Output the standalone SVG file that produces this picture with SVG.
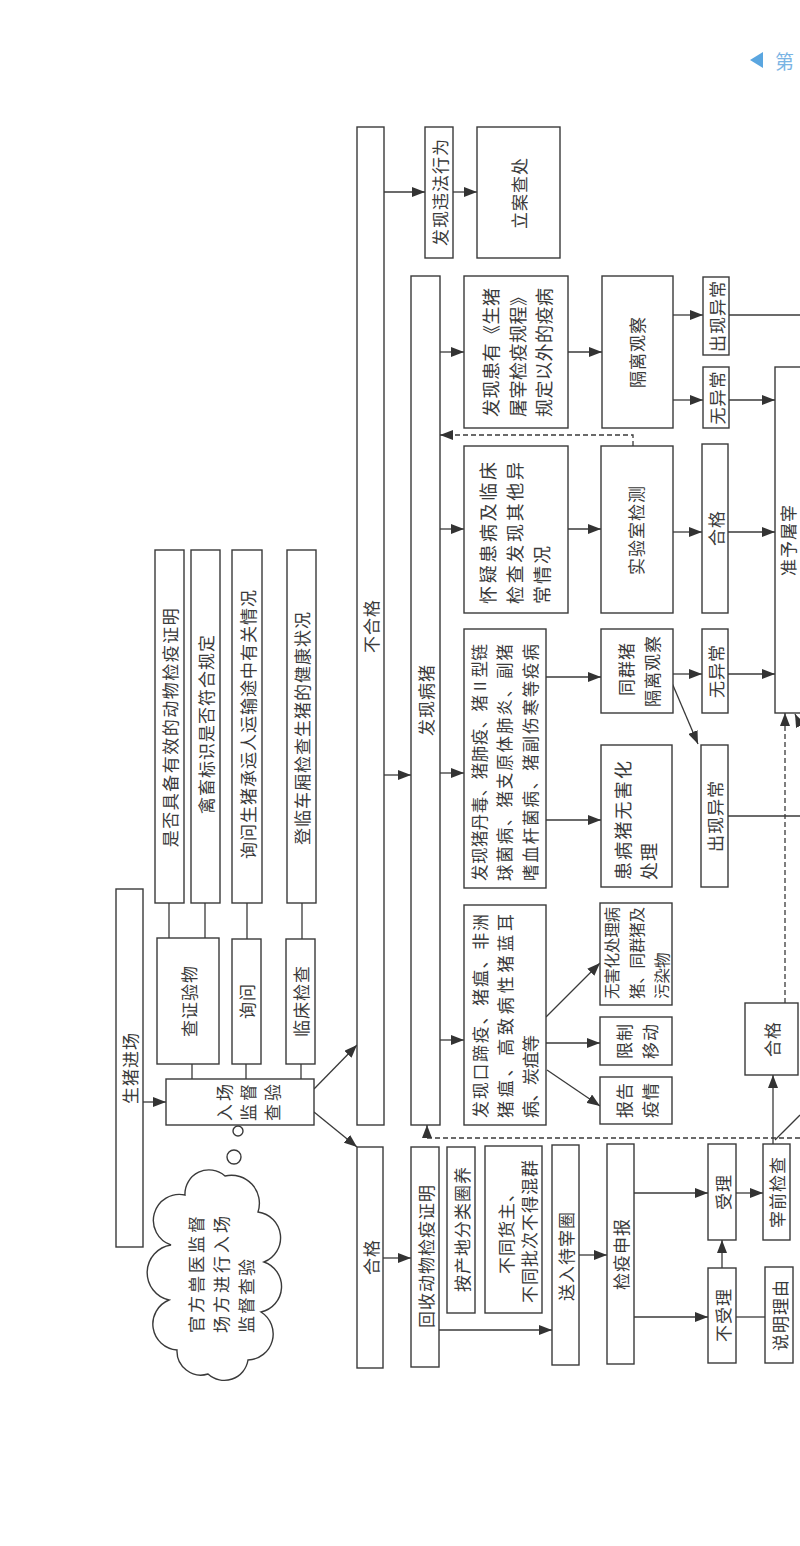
<svg xmlns="http://www.w3.org/2000/svg" width="800" height="1546" viewBox="0 0 800 1546">
<style>
.b{fill:#fff;stroke:#3a3a3a;stroke-width:1.4}
.t{font-family:"Noto Sans CJK SC","Noto Sans CJK JP",sans-serif;font-size:17px;fill:#3a3a3a;dominant-baseline:central;letter-spacing:1px}
.c{text-anchor:middle}
.l{stroke:#3a3a3a;stroke-width:1.3;fill:none}
.a{marker-end:url(#ah)}
.d{stroke-dasharray:5,3}
</style>
<defs>
<marker id="ah" viewBox="0 0 13 10" refX="13" refY="5" markerWidth="13" markerHeight="10" markerUnits="userSpaceOnUse" orient="auto"><path d="M0,0 L13,5 L0,10 z" fill="#333"/></marker>
</defs>
<rect width="800" height="1546" fill="#fff"/>

<g id="header">
<path d="M750,60 L763,52 L763,68 Z" fill="#5aa6e0"/>
<text x="775" y="60" style="font-family:'Noto Sans CJK SC',sans-serif;font-size:19px;fill:#7ab4e4;dominant-baseline:central">第</text>
</g>

<g id="connectors">
<line class="l a" x1="143" y1="1102" x2="166" y2="1102"/>
<line class="l a" x1="314" y1="1089" x2="357" y2="1045"/>
<line class="l a" x1="314" y1="1112" x2="357" y2="1147"/>
<line class="l" x1="192" y1="1079" x2="192" y2="1064"/>
<line class="l" x1="246" y1="1079" x2="246" y2="1064"/>
<line class="l" x1="301" y1="1079" x2="301" y2="1064"/>
<line class="l" x1="169" y1="938" x2="169" y2="903"/>
<line class="l" x1="205" y1="938" x2="205" y2="903"/>
<line class="l" x1="247" y1="939" x2="247" y2="903"/>
<line class="l" x1="302" y1="939" x2="302" y2="903"/>
<line class="l a" x1="384" y1="192" x2="425" y2="192"/>
<line class="l a" x1="453" y1="192" x2="477" y2="192"/>
<line class="l a" x1="384" y1="775" x2="411" y2="775"/>
<line class="l a" x1="440" y1="352" x2="464" y2="352"/>
<line class="l a" x1="440" y1="529" x2="464" y2="529"/>
<line class="l a" x1="440" y1="773" x2="464" y2="773"/>
<line class="l a" x1="440" y1="1040" x2="464" y2="1040"/>
<line class="l a" x1="568" y1="352" x2="602" y2="352"/>
<line class="l a" x1="673" y1="315" x2="703" y2="315"/>
<line class="l a" x1="673" y1="400" x2="703" y2="400"/>
<line class="l" x1="729" y1="315" x2="800" y2="315"/>
<line class="l a" x1="729" y1="400" x2="775" y2="400"/>
<line class="l a" x1="568" y1="529" x2="601" y2="529"/>
<line class="l a" x1="673" y1="532" x2="702" y2="532"/>
<line class="l a" x1="728" y1="532" x2="775" y2="532"/>
<polyline class="l d a" points="633,446 633,435 440,435"/>
<line class="l a" x1="546" y1="677" x2="601" y2="677"/>
<line class="l a" x1="546" y1="820" x2="601" y2="820"/>
<line class="l a" x1="673" y1="674" x2="702" y2="674"/>
<line class="l a" x1="728" y1="674" x2="775" y2="674"/>
<line class="l a" x1="672" y1="683" x2="698" y2="744"/>
<line class="l" x1="728" y1="816" x2="800" y2="816"/>
<line class="l a" x1="547" y1="1070" x2="600" y2="1106"/>
<line class="l a" x1="546" y1="1043" x2="600" y2="1043"/>
<line class="l a" x1="546" y1="1017" x2="600" y2="963"/>
<line class="l a" x1="383" y1="1258" x2="411" y2="1258"/>
<line class="l a" x1="439" y1="1330" x2="552" y2="1330"/>
<line class="l a" x1="579" y1="1255" x2="607" y2="1255"/>
<line class="l a" x1="634" y1="1193" x2="708" y2="1193"/>
<line class="l a" x1="634" y1="1317" x2="708" y2="1317"/>
<line class="l a" x1="722" y1="1268" x2="722" y2="1240"/>
<line class="l" x1="736" y1="1317" x2="765" y2="1317"/>
<line class="l a" x1="736" y1="1193" x2="763" y2="1193"/>
<line class="l a" x1="773" y1="1144" x2="773" y2="1075"/>
<line class="l" x1="775" y1="1140" x2="800" y2="1115"/>
<polyline class="l d a" points="800,1138 427,1138 427,1125"/>
<line class="l d a" x1="785" y1="1003" x2="785" y2="713"/>
<line class="l a" x1="806" y1="737" x2="795" y2="714"/>
</g>

<g id="n-shengzhujinchang"><rect class="b" x="116" y="889" width="27" height="358"/><text class="t c" transform="translate(129.5,1068) rotate(-90)">生猪进场</text></g>
<g id="n-ruchang"><rect class="b" x="166" y="1079" width="148" height="46"/>
<text class="t c" style="letter-spacing:3px" transform="translate(223,1101) rotate(-90)">入场</text>
<text class="t c" style="letter-spacing:3px" transform="translate(247,1101) rotate(-90)">监督</text>
<text class="t c" style="letter-spacing:3px" transform="translate(271,1101) rotate(-90)">查验</text></g>
<g id="n-chazheng"><rect class="b" x="157" y="938" width="62" height="126"/><text class="t c" transform="translate(188,1001) rotate(-90)">查证验物</text></g>
<g id="n-xunwen"><rect class="b" x="232" y="939" width="29" height="125"/><text class="t c" transform="translate(246.5,1001) rotate(-90)">询问</text></g>
<g id="n-linchuang"><rect class="b" x="286" y="939" width="29" height="125"/><text class="t c" transform="translate(300.5,1001) rotate(-90)">临床检查</text></g>
<g id="n-shifou"><rect class="b" x="155" y="550" width="29" height="353"/><text class="t c" style="letter-spacing:1.5px" transform="translate(169.5,727) rotate(-90)">是否具备有效的动物检疫证明</text></g>
<g id="n-qinchu"><rect class="b" x="191" y="550" width="29" height="353"/><text class="t c" transform="translate(205.5,724) rotate(-90)">禽畜标识是否符合规定</text></g>
<g id="n-xunwensz"><rect class="b" x="232" y="550" width="30" height="353"/><text class="t c" transform="translate(247,724) rotate(-90)">询问生猪承运人运输途中有关情况</text></g>
<g id="n-denglin"><rect class="b" x="287" y="550" width="29" height="353"/><text class="t c" transform="translate(301.5,728) rotate(-90)">登临车厢检查生猪的健康状况</text></g>

<g id="n-buhege"><rect class="b" x="357" y="127" width="27" height="998"/><text class="t c" transform="translate(370.5,626) rotate(-90)">不合格</text></g>
<g id="n-hege"><rect class="b" x="357" y="1147" width="26" height="221"/><text class="t c" transform="translate(370,1257) rotate(-90)">合格</text></g>
<g id="n-weifa"><rect class="b" x="425" y="127" width="28" height="131"/><text class="t c" transform="translate(439,192) rotate(-90)">发现违法行为</text></g>
<g id="n-lian"><rect class="b" x="477" y="127" width="83" height="131"/><text class="t c" transform="translate(518.5,193) rotate(-90)">立案查处</text></g>
<g id="n-bingzhu"><rect class="b" x="411" y="276" width="29" height="849"/><text class="t c" transform="translate(425.5,700) rotate(-90)">发现病猪</text></g>
<g id="n-huishou"><rect class="b" x="411" y="1147" width="28" height="220"/><text class="t c" transform="translate(425,1256) rotate(-90)">回收动物检疫证明</text></g>
<g id="n-anchandi"><rect class="b" x="447" y="1147" width="28" height="166"/><text class="t c" transform="translate(461,1229) rotate(-90)">按产地分类圈养</text></g>
<g id="n-butong"><rect class="b" x="485" y="1146" width="57" height="167"/>
<text class="t c" transform="translate(505,1229) rotate(-90)">不同货主、</text>
<text class="t c" transform="translate(528,1231) rotate(-90)">不同批次不得混群</text></g>
<g id="n-songru"><rect class="b" x="552" y="1145" width="27" height="220"/><text class="t c" transform="translate(565.5,1256) rotate(-90)">送入待宰圈</text></g>
<g id="n-shenbao"><rect class="b" x="607" y="1144" width="27" height="220"/><text class="t c" transform="translate(620.5,1254) rotate(-90)">检疫申报</text></g>
<g id="n-shouli"><rect class="b" x="708" y="1144" width="28" height="96"/><text class="t c" transform="translate(722,1192) rotate(-90)">受理</text></g>
<g id="n-bushouli"><rect class="b" x="708" y="1268" width="28" height="95"/><text class="t c" transform="translate(722,1315) rotate(-90)">不受理</text></g>
<g id="n-shuoming"><rect class="b" x="765" y="1267" width="28" height="96"/><text class="t c" transform="translate(779,1315) rotate(-90)">说明理由</text></g>
<g id="n-zaiqian"><rect class="b" x="763" y="1144" width="27" height="96"/><text class="t c" transform="translate(776.5,1192) rotate(-90)">宰前检查</text></g>
<g id="n-hege2"><rect class="b" x="745" y="1003" width="53" height="72"/><text class="t c" transform="translate(771,1039) rotate(-90)">合格</text></g>
<g id="n-zhunyu"><rect class="b" x="775" y="367" width="40" height="346"/><text class="t c" transform="translate(787,540) rotate(-90)">准予屠宰</text></g>

<g id="n-boxA"><rect class="b" x="464" y="276" width="104" height="152"/>
<text class="t" style="font-size:18px" transform="translate(490,417) rotate(-90)"><tspan x="0" y="0" textLength="130" lengthAdjust="spacing">发现患有《生猪</tspan><tspan x="0" y="26.5" textLength="130" lengthAdjust="spacing">屠宰检疫规程》</tspan><tspan x="0" y="52.5" textLength="130" lengthAdjust="spacing">规定以外的疫病</tspan></text></g>
<g id="n-geli"><rect class="b" x="602" y="276" width="71" height="152"/><text class="t c" transform="translate(636,352) rotate(-90)">隔离观察</text></g>
<g id="n-yichang1"><rect class="b" x="703" y="277" width="26" height="78"/><text class="t c" transform="translate(716,316) rotate(-90)">出现异常</text></g>
<g id="n-wuyichang1"><rect class="b" x="703" y="367" width="26" height="61"/><text class="t c" transform="translate(716,397.5) rotate(-90)">无异常</text></g>

<g id="n-boxB"><rect class="b" x="464" y="446" width="104" height="167"/>
<text class="t" style="font-size:18px" transform="translate(487,604) rotate(-90)"><tspan x="0" y="0" textLength="143" lengthAdjust="spacing">怀疑患病及临床</tspan><tspan x="0" y="27" textLength="143" lengthAdjust="spacing">检查发现其他异</tspan><tspan x="0" y="54" textLength="59" lengthAdjust="spacing">常情况</tspan></text></g>
<g id="n-shiyan"><rect class="b" x="601" y="446" width="72" height="167"/><text class="t c" transform="translate(635,530) rotate(-90)">实验室检测</text></g>
<g id="n-hege3"><rect class="b" x="702" y="444" width="26" height="169"/><text class="t c" transform="translate(715,528) rotate(-90)">合格</text></g>

<g id="n-boxC"><rect class="b" x="464" y="629" width="82" height="259"/>
<text class="t" style="font-size:16.5px" transform="translate(479,881) rotate(-90)"><tspan x="0" y="0" textLength="238" lengthAdjust="spacing">发现猪丹毒、猪肺疫、猪Ⅱ型链</tspan><tspan x="0" y="25" textLength="238" lengthAdjust="spacing">球菌病、猪支原体肺炎、副猪</tspan><tspan x="0" y="51" textLength="238" lengthAdjust="spacing">嗜血杆菌病、猪副伤寒等疫病</tspan></text></g>
<g id="n-tongqun"><rect class="b" x="601" y="629" width="72" height="84"/>
<text class="t c" transform="translate(625,669) rotate(-90)">同群猪</text>
<text class="t c" transform="translate(651,671) rotate(-90)">隔离观察</text></g>
<g id="n-wuyichang2"><rect class="b" x="702" y="629" width="26" height="84"/><text class="t c" transform="translate(715,671) rotate(-90)">无异常</text></g>
<g id="n-yichang2"><rect class="b" x="701" y="745" width="27" height="142"/><text class="t c" transform="translate(714.5,816) rotate(-90)">出现异常</text></g>
<g id="n-huanbing"><rect class="b" x="601" y="745" width="71" height="142"/>
<text class="t" style="font-size:18px" transform="translate(622,880) rotate(-90)"><tspan x="0" y="0" textLength="120" lengthAdjust="spacing">患病猪无害化</tspan><tspan x="0" y="26" textLength="38" lengthAdjust="spacing">处理</tspan></text></g>

<g id="n-boxD"><rect class="b" x="464" y="905" width="82" height="220"/>
<text class="t" style="font-size:17px" transform="translate(479,1118) rotate(-90)"><tspan x="0" y="0" textLength="205" lengthAdjust="spacing">发现口蹄疫、猪瘟、非洲</tspan><tspan x="0" y="25" textLength="205" lengthAdjust="spacing">猪瘟、高致病性猪蓝耳</tspan><tspan x="0" y="50" textLength="84" lengthAdjust="spacing">病、炭疽等</tspan></text></g>
<g id="n-wuhaihua"><rect class="b" x="600" y="903" width="72" height="102"/>
<text class="t" style="font-size:15.5px;letter-spacing:0" transform="translate(611,999) rotate(-90)"><tspan x="0" y="0" textLength="92" lengthAdjust="spacing">无害化处理病</tspan><tspan x="0" y="25" textLength="92" lengthAdjust="spacing">猪、同群猪及</tspan><tspan x="0" y="50">污染物</tspan></text></g>
<g id="n-xianzhi"><rect class="b" x="600" y="1017" width="72" height="48"/>
<text class="t c" transform="translate(623,1041) rotate(-90)">限制</text>
<text class="t c" transform="translate(649,1041) rotate(-90)">移动</text></g>
<g id="n-baogao"><rect class="b" x="600" y="1077" width="72" height="47"/>
<text class="t c" transform="translate(623,1100) rotate(-90)">报告</text>
<text class="t c" transform="translate(649,1100) rotate(-90)">疫情</text></g>

<g id="n-cloud">
<circle class="b" cx="238" cy="1131" r="5"/>
<circle class="b" cx="234" cy="1157" r="7"/>
<path class="b" d="M185,1195 A24,24 0 0,1 225,1176 A28,28 0 0,1 258,1212 A26,26 0 0,1 264,1262 A26,26 0 0,1 261,1312 A26,26 0 0,1 248,1360 A24,24 0 0,1 208,1374 A24,24 0 0,1 177,1350 A26,26 0 0,1 169,1300 A28,28 0 0,1 171,1245 A26,26 0 0,1 185,1195 Z"/>
<text class="t" transform="translate(195,1333) rotate(-90)"><tspan x="0" y="0" textLength="118" lengthAdjust="spacing">官方兽医监督</tspan><tspan x="0" y="25" textLength="118" lengthAdjust="spacing">场方进行入场</tspan><tspan x="0" y="50" textLength="75" lengthAdjust="spacing">监督查验</tspan></text>
</g>
</svg>
